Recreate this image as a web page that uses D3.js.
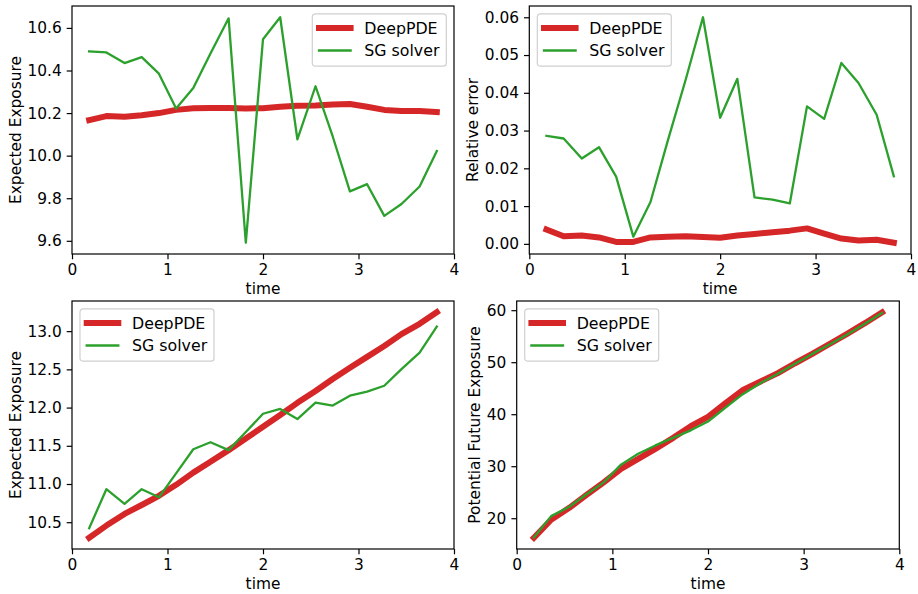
<!DOCTYPE html>
<meta charset="utf-8">
<style>
body{ margin:0; background:#fff; }
text { font-family: "DejaVu Sans", sans-serif; font-size:15.4px; fill:#000; }
</style>
<body>
<script src="https://d3js.org/d3.v7.min.js"></script>
<script>

// time grid shared by every panel
var time = [0.18, 0.36, 0.55, 0.73, 0.91, 1.09, 1.27, 1.45, 1.64, 1.82, 2.00,
            2.18, 2.36, 2.55, 2.73, 2.91, 3.09, 3.27, 3.45, 3.64, 3.82];

var seriesNames = ["DeepPDE", "SG solver"];
var xTicks = [0, 1, 2, 3, 4];

// top left : expected exposure
var eeDeepA = [10.167, 10.186, 10.183, 10.190, 10.200, 10.215, 10.223, 10.224, 10.224, 10.222, 10.223,
               10.230, 10.234, 10.236, 10.240, 10.243, 10.230, 10.215, 10.210, 10.210, 10.205];
var eeSgA   = [10.490, 10.485, 10.435, 10.463, 10.385, 10.221, 10.318, 10.480, 10.645, 9.591, 10.547,
               10.650, 10.077, 10.326, 10.090, 9.832, 9.866, 9.717, 9.773, 9.855, 10.022];
var yTicksA = [9.6, 9.8, 10.0, 10.2, 10.4, 10.6];

// top right : relative error
var relDeep = [0.0038, 0.0020, 0.0022, 0.0017, 0.0005, 0.0005, 0.0017, 0.0019, 0.0020, 0.0018, 0.0016,
               0.0022, 0.0026, 0.0031, 0.0035, 0.0041, 0.0027, 0.0014, 0.0009, 0.0011, 0.0003];
var relSg   = [0.0286, 0.0279, 0.0226, 0.0256, 0.0178, 0.0019, 0.0111, 0.0272, 0.0436, 0.0600, 0.0334,
               0.0437, 0.0123, 0.0117, 0.0107, 0.0364, 0.0331, 0.0479, 0.0426, 0.0342, 0.0179];
var yTicksB = [0.00, 0.01, 0.02, 0.03, 0.04, 0.05, 0.06];

// bottom left : expected exposure
var eeDeepC = [10.297, 10.456, 10.608, 10.725, 10.846, 10.989, 11.149, 11.292, 11.443, 11.594, 11.750,
               11.902, 12.062, 12.217, 12.373, 12.520, 12.663, 12.806, 12.961, 13.096, 13.247];
var eeSgC   = [10.422, 10.932, 10.740, 10.932, 10.826, 11.140, 11.455, 11.547, 11.443, 11.680, 11.919,
               11.982, 11.850, 12.066, 12.027, 12.156, 12.208, 12.286, 12.503, 12.719, 13.061];
var yTicksC = [10.5, 11.0, 11.5, 12.0, 12.5, 13.0];

// bottom right : potential future exposure
var pfeDeep = [16.25, 19.7, 22.0, 24.5, 26.9, 29.5, 31.4, 33.35, 35.5, 37.7, 39.5,
               42.1, 44.6, 46.3, 47.9, 49.8, 51.6, 53.5, 55.4, 57.5, 59.6];
var pfeSg   = [16.3, 20.4, 22.2, 24.6, 26.9, 30.3, 32.4, 34.0, 35.5, 36.9, 38.6,
               41.2, 43.8, 46.0, 47.8, 49.7, 51.6, 53.4, 55.3, 57.4, 59.5];
var yTicksD = [20, 30, 40, 50, 60];

var red = "#d62728", green = "#2ca02c";
var redW = 6, greenW = 2.3;

var panels = [
  {left: 72,    top: 6,   width: 382,   height: 248, deep: eeDeepA, sg: eeSgA, ticks: yTicksA, fmt: ".1f",
   ylabel: "Expected Exposure", legend: "right"},
  {left: 529.3, top: 6,   width: 381.7, height: 248, deep: relDeep, sg: relSg, ticks: yTicksB, fmt: ".2f",
   ylabel: "Relative error", legend: "left"},
  {left: 72,    top: 301, width: 382,   height: 248, deep: eeDeepC, sg: eeSgC, ticks: yTicksC, fmt: ".1f",
   ylabel: "Expected Exposure", legend: "left"},
  {left: 516.7, top: 301, width: 382.6, height: 248, deep: pfeDeep, sg: pfeSg, ticks: yTicksD, fmt: "d",
   ylabel: "Potential Future Exposure", legend: "left"}
];

var svg = d3.select("body").append("svg")
    .attr("width", 918)
    .attr("height", 594);

panels.forEach(function(p) {
  var g = svg.append("g").attr("transform", "translate(" + p.left + "," + p.top + ")");

  var x = d3.scaleLinear().domain([0, 4]).range([0, p.width]);
  // matplotlib style 5% margin round the data
  var ext = d3.extent(p.deep.concat(p.sg));
  var pad = (ext[1] - ext[0]) * 0.05;
  var y = d3.scaleLinear().domain([ext[0] - pad, ext[1] + pad]).range([p.height, 0]);

  var line = d3.line()
      .x(function(d, i) { return x(time[i]); })
      .y(function(d) { return y(d); });

  g.append("path").datum(p.deep)
      .attr("d", line)
      .attr("fill", "none").attr("stroke", red).attr("stroke-width", redW)
      .attr("stroke-linejoin", "round").attr("stroke-linecap", "square");
  g.append("path").datum(p.sg)
      .attr("d", line)
      .attr("fill", "none").attr("stroke", green).attr("stroke-width", greenW)
      .attr("stroke-linejoin", "round").attr("stroke-linecap", "square");

  var xAxis = g.append("g")
      .attr("transform", "translate(0," + p.height + ")")
      .call(d3.axisBottom(x).tickValues(xTicks).tickFormat(d3.format("d")).tickSize(5.3).tickPadding(5));
  var yAxis = g.append("g")
      .call(d3.axisLeft(y).tickValues(p.ticks).tickFormat(d3.format(p.fmt)).tickSize(5.3).tickPadding(5));
  [xAxis, yAxis].forEach(function(a) {
    a.select(".domain").remove();
    a.selectAll("line").attr("stroke", "#000").attr("stroke-width", 1.2);
    a.selectAll("text").attr("fill", "#000");
  });

  // frame
  g.append("rect")
      .attr("width", p.width).attr("height", p.height)
      .attr("fill", "none").attr("stroke", "#000").attr("stroke-width", 1.2);

  g.append("text")
      .attr("x", p.width / 2).attr("y", p.height + 40)
      .attr("text-anchor", "middle")
      .text("time");

  var bb = yAxis.node().getBBox();
  g.append("text")
      .attr("transform", "translate(" + (bb.x - 6.8) + "," + (p.height / 2) + ") rotate(-90)")
      .attr("text-anchor", "middle")
      .text(p.ylabel);

  // legend
  var lw = 134, lh = 52.3;
  var lx = p.legend == "right" ? p.width - lw - 7.7 : 8;
  var leg = g.append("g").attr("transform", "translate(" + lx + ",7.9)");
  leg.append("rect")
      .attr("width", lw).attr("height", lh).attr("rx", 3)
      .attr("fill", "#fff").attr("fill-opacity", 0.8)
      .attr("stroke", "#d0d0d0").attr("stroke-width", 1.2);
  seriesNames.forEach(function(name, i) {
    var cy = 14 + i * 22.6;
    leg.append("line")
        .attr("x1", 6.7).attr("x2", 38.3)
        .attr("y1", cy).attr("y2", cy)
        .attr("stroke", i == 0 ? red : green)
        .attr("stroke-width", i == 0 ? redW : greenW)
        .attr("stroke-linecap", "square");
    leg.append("text")
        .attr("x", 52).attr("y", cy + 5.8)
        .style("font-size", "15.8px")
        .text(name);
  });
});
</script>
